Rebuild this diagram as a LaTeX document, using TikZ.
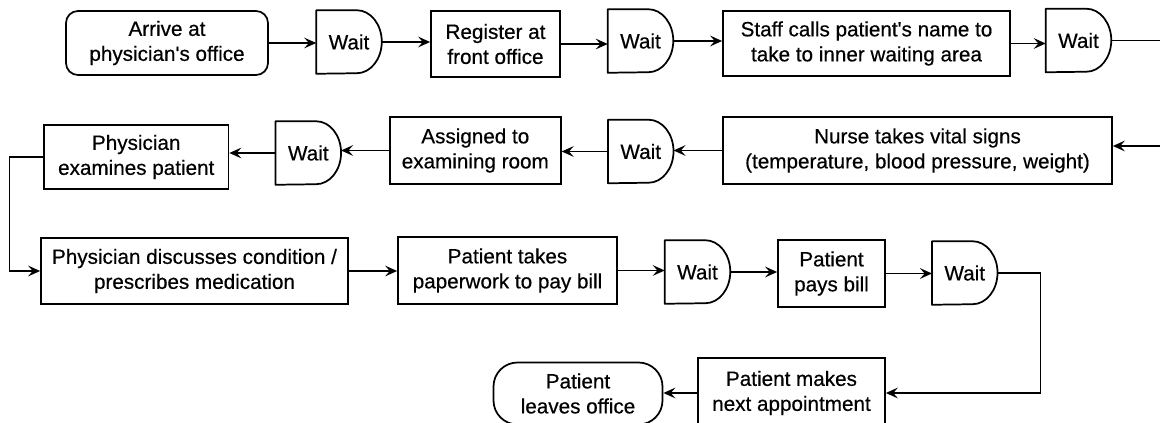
\documentclass[tikz,border=0pt]{standalone}
\usepackage{fontspec}
\setmainfont{Liberation Sans}
\newfontfamily\diagfont{Liberation Sans}[FakeBold=0.5]
\usetikzlibrary{arrows.meta}
\begin{document}
\begin{tikzpicture}[x=0.75pt,y=-0.75pt,
  font=\diagfont\fontsize{15.5}{18.75}\selectfont,
  sz/.style 2 args={minimum width=#1*0.75pt, minimum height=#2*0.75pt},
  stepbox/.style={draw, line width=1.3pt, inner sep=0pt, align=center},
  startbox/.style={stepbox, rounded corners=9pt},
  endbox/.style={stepbox, rounded corners=18pt},
  waitbox/.style={inner sep=0pt, minimum width=65*0.75pt, minimum height=63*0.75pt},
  waitline/.style={line width=1.3pt, line join=round},
  flow/.style={line width=1.25pt},
  arr/.style={flow, -{Stealth[length=9pt,width=8pt,inset=3.5pt]}},
]
\useasboundingbox (0,0) rectangle (1160,423);

% first row: arrival and registration
\node[startbox, sz={202}{64}] (arrive) at (167,43) {Arrive at\\physician\textquotesingle s office};
\node[waitbox] (w1) at (349,42) {Wait};
\node[stepbox, sz={129}{66}] (register) at (495.5,44) {Register at\\front office};
\node[waitbox] (w2) at (640.5,41) {Wait};
\node[stepbox, sz={287}{65}] (staff) at (866.5,43.5) {Staff calls patient\textquotesingle s name to\\take to inner waiting area};
\node[waitbox] (w3) at (1078.5,40.5) {Wait};

% second row, read from right to left
\node[stepbox, sz={389}{67}] (nurse) at (917.5,150.5) {Nurse takes vital signs\\(temperature, blood pressure, weight)};
\node[waitbox] (w4) at (640.75,151.5) {Wait};
\node[stepbox, sz={171}{67}] (assigned) at (475.3,150.5) {Assigned to\\examining room};
\node[waitbox] (w5) at (308.3,153) {Wait};
\node[stepbox, sz={184.5}{64}] (examines) at (136.25,157) {Physician\\examines patient};

% third row: consultation and payment
\node[stepbox, sz={307}{66}] (discusses) at (194.5,271) {Physician discusses condition /\\prescribes medication};
\node[stepbox, sz={219}{67}] (paperwork) at (507.5,270.5) {Patient takes\\paperwork to pay bill};
\node[waitbox] (w6) at (697.5,272) {Wait};
\node[stepbox, sz={107}{67}] (pays) at (831.5,273.5) {Patient\\pays bill};
\node[waitbox] (w7) at (964.75,273) {Wait};

% last row: leaving the office
\node[stepbox, sz={187}{70}] (makes) at (791.5,393) {Patient makes\\next appointment};
\node[endbox, sz={169}{62}] (leaves) at (578,393.5) {Patient\\leaves office};

% delay symbols: flat left side, rounded right side
\foreach \n in {w1,w2,w3,w4,w5,w6,w7}
  \draw[waitline] (\n.north west) -- ([xshift=-18.75pt]\n.north east)
    arc[start angle=90, end angle=-90, x radius=18.75pt, y radius=23.625pt]
    -- (\n.south west) -- cycle;

% turning points of the connectors
\coordinate (redge1) at (1160,41);
\coordinate (redge2) at (1160,146);
\coordinate (lturn) at (9.5,0);
\coordinate (rturn) at (1040.5,0);

% first row connectors
\draw[arr] (arrive.east) -- (arrive.east -| w1.west);
\draw[arr] (w1.east) -- (w1.east -| register.west);
\draw[arr] (register.east) -- (register.east -| w2.west);
\draw[arr] (w2.east) -- (w2.east -| staff.west);
\draw[arr] (staff.east) -- (staff.east -| w3.west);
\draw[flow] (w3.east) -- (w3.east -| redge1);

% second row connectors
\draw[arr] (redge2) -- (redge2 -| nurse.east);
\draw[arr] (nurse.west) -- (nurse.west -| w4.east);
\draw[arr] (w4.west) -- (w4.west -| assigned.east);
\draw[arr] (assigned.west) -- (assigned.west -| w5.east);
\draw[arr] (w5.west) -- (w5.west -| examines.east);
\draw[arr] (examines.west) -- (examines.west -| lturn) |- (discusses.west);

% third row connectors
\draw[arr] (discusses.east) -- (discusses.east -| paperwork.west);
\draw[arr] (paperwork.east) -- (paperwork.east -| w6.west);
\draw[arr] (w6.east) -- (w6.east -| pays.west);
\draw[arr] (pays.east) -- (pays.east -| w7.west);
\draw[arr] (w7.east) -- (w7.east -| rturn) |- (makes.east);

% last row connector
\draw[arr] (makes.west) -- (makes.west -| leaves.east);
\end{tikzpicture}
\end{document}
